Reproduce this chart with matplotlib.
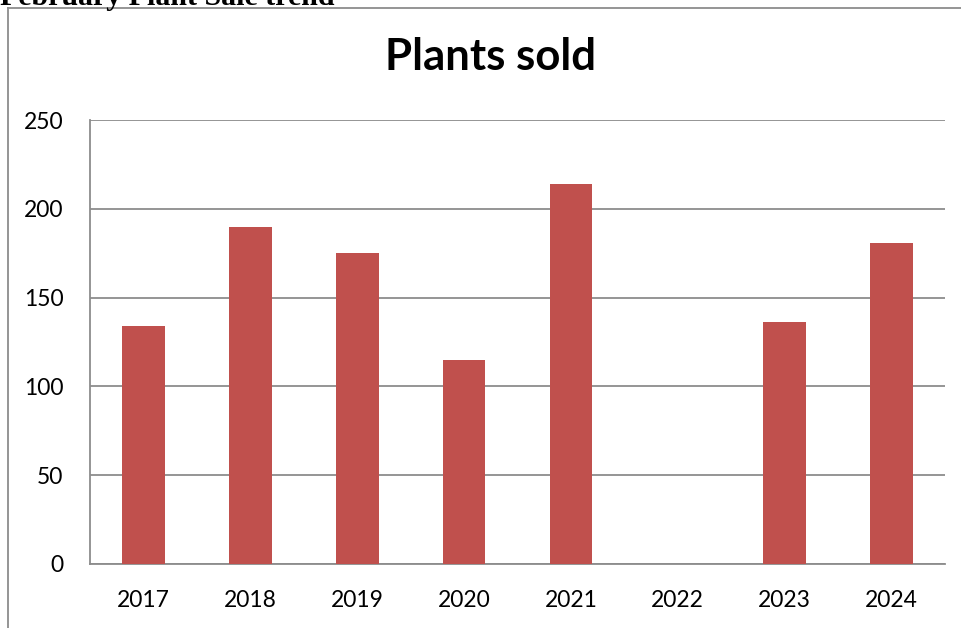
import matplotlib
matplotlib.use("Agg")
import matplotlib.pyplot as plt
from matplotlib.lines import Line2D

years = ["2017", "2018", "2019", "2020", "2021", "2022", "2023", "2024"]
plants_sold = [134, 190, 175, 115, 214, 0, 136, 181]
y_ticks = [0, 50, 100, 150, 200, 250]

W, H = 962, 628
fig = plt.figure(figsize=(W / 100, H / 100), dpi=100)
fig.patch.set_facecolor("white")

# plot area in pixels: left 90, right 945, top 120, bottom 564
ax = fig.add_axes([90 / W, 1 - 564 / H, (945 - 90) / W, (564 - 120) / H])
x = list(range(len(years)))
ax.bar(x, plants_sold, width=0.4, color="#c0504d", zorder=3)
ax.set_xlim(-0.5, len(years) - 0.5)
ax.set_ylim(0, 250)
ax.set_yticks(y_ticks)
ax.set_xticks(x)
ax.set_xticklabels(years)
ax.grid(axis="y", color="#8c8c8c", linewidth=1.3, zorder=0)
for s in ["top", "right"]:
    ax.spines[s].set_visible(False)
for s in ["left", "bottom"]:
    ax.spines[s].set_color("#8c8c8c")
    ax.spines[s].set_linewidth(1.3)
ax.tick_params(axis="both", length=0, labelsize=16.5, colors="black")
ax.tick_params(axis="y", pad=19)
ax.tick_params(axis="x", pad=19)
for lab in ax.get_xticklabels() + ax.get_yticklabels():
    lab.set_fontfamily("Lato")

fig.text(491 / W, 1 - 57 / H, "Plants sold", ha="center", va="center",
         fontsize=31.5, fontweight="bold", fontfamily="Lato")

# outer chart frame
fig.add_artist(Line2D([8 / W, 8 / W], [0, 1 - 8 / H], color="#8c8c8c", linewidth=1.3,
                      transform=fig.transFigure))
fig.add_artist(Line2D([8 / W, 1], [1 - 8 / H, 1 - 8 / H], color="#8c8c8c", linewidth=1.3,
                      transform=fig.transFigure))

# clipped heading above the chart (cut off at the top edge, as in the source)
fig.text(0, 1 - 5 / H, "February Plant Sale trend", ha="left", va="baseline",
         fontsize=21.5, fontweight="bold", fontfamily="Liberation Serif")

fig.savefig("out.png", dpi=100, facecolor="white")
